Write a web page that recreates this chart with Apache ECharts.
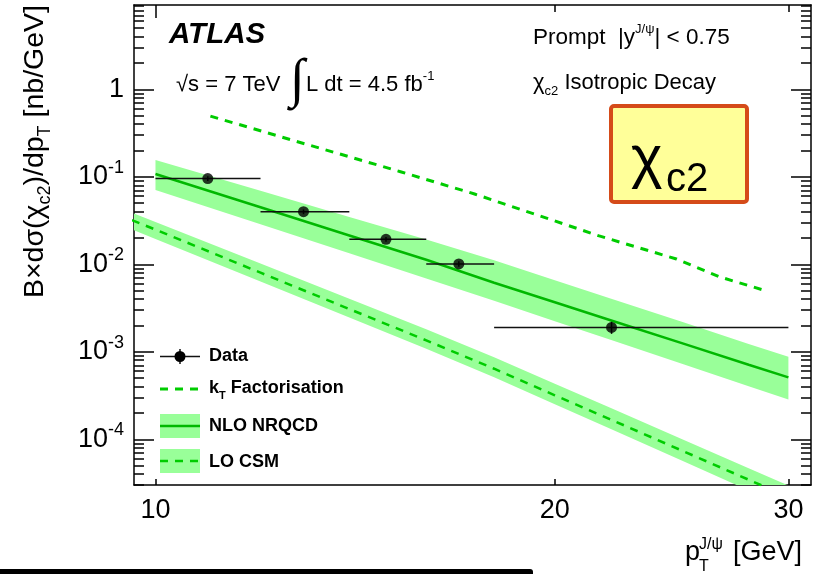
<!DOCTYPE html>
<html>
<head>
<meta charset="utf-8">
<script src="https://cdn.jsdelivr.net/npm/echarts@6/dist/echarts.min.js"></script>
<style>
  html, body { margin: 0; padding: 0; background: #fff; }
  #chart { width: 822px; height: 574px; }
</style>
</head>
<body>
<div id="chart"></div>
<script>
// Measured chi_c2 cross-section (prompt, |y| < 0.75)
const ptBinLow  = [10, 12, 14, 16, 18];
const ptBinHigh = [12, 14, 16, 18, 30];
const ptData    = [10.95, 12.93, 14.92, 16.93, 22.07];
const xsecData  = [0.0954, 0.0399, 0.0193, 0.0101, 0.0019];
const xsecErrLo = [0.006, 0.0025, 0.0012, 0.0007, 0.0003];
const xsecErrHi = [0.006, 0.0025, 0.0012, 0.0007, 0.0003];

// NLO NRQCD prediction with uncertainty band
const ptNlo      = [10, 12, 14, 16, 18, 20, 22, 25, 28, 30];
const nloCentral = [0.1076, 0.0448, 0.02134, 0.01126, 0.00615, 0.00368, 0.00231, 0.00124, 0.00071, 0.00051];
const nloUpper   = [0.1556, 0.0692, 0.0348, 0.0192, 0.01114, 0.00658, 0.0041, 0.00217, 0.00123, 0.000875];
const nloLower   = [0.0707, 0.0286, 0.01333, 0.00689, 0.00382, 0.00223, 0.00138, 0.00072, 0.000404, 0.000285];

// LO colour-singlet prediction with uncertainty band
const ptCsm      = [9.6, 10, 12, 14, 16, 18, 20, 22, 25, 28, 30];
const csmCentral = [0.032, 0.0249, 0.00802, 0.00308, 0.00135, 0.00064, 0.000318, 0.00017, 7.3e-5, 3.45e-5, 2.18e-5];
const csmUpper   = [0.0389, 0.0304, 0.0102, 0.00403, 0.00181, 0.000867, 0.000432, 0.00023, 9.9e-5, 4.67e-5, 2.96e-5];
const csmLower   = [0.0251, 0.0195, 0.00634, 0.00246, 0.00108, 0.000511, 0.000252, 0.000133, 5.6e-5, 2.6e-5, 1.56e-5];

// kT factorisation prediction
const ptKt     = [11, 13, 15.3, 17.4, 19.5, 21.6, 24.7, 26.6, 28.7];
const ktValues = [0.494, 0.235, 0.1144, 0.0636, 0.0356, 0.0211, 0.0115, 0.0072, 0.0051];

// Axis ranges and ticks
const xRange = [9.634, 31.2];
const yRange = [3.0e-5, 9.2];
const xTickValues = [10, 20, 30];
const yDecadeTicks = [1e-4, 1e-3, 1e-2, 1e-1, 1];
const yMinorTicks = [];
for (let e = -5; e <= 0; e++) {
  for (let k = 2; k <= 9; k++) {
    const v = k * Math.pow(10, e);
    if (v >= yRange[0] && v <= yRange[1]) yMinorTicks.push(v);
  }
}

const FONT = '"Liberation Sans", Arial, Helvetica, sans-serif';
const SERIF = '"Liberation Serif", "DejaVu Serif", serif';
const GREEN_LINE = '#00b800';
const GREEN_DASH = '#00cc00';
const GREEN_BAND = '#99ff99';

const chart = echarts.init(document.getElementById('chart'), null, { renderer: 'canvas' });

function pairs(xs, ys) { return xs.map((x, i) => [x, ys[i]]); }

function bandSeries(name, xs, lo, hi) {
  return {
    name: name, type: 'custom', clip: true, silent: true, z: 1,
    data: [[xs[0], hi[0]]],
    renderItem: function (params, api) {
      const pts = [];
      for (let i = 0; i < xs.length; i++) pts.push(api.coord([xs[i], hi[i]]));
      for (let i = xs.length - 1; i >= 0; i--) pts.push(api.coord([xs[i], lo[i]]));
      return { type: 'polygon', shape: { points: pts }, style: { fill: GREEN_BAND } };
    }
  };
}

const tickLine = { color: '#000', width: 1.5 };

function logAxisBase(range) {
  return {
    type: 'log', logBase: 10, min: range[0], max: range[1],
    splitLine: { show: false }, minorTick: { show: false }, minorSplitLine: { show: false },
    axisLine: { show: false, onZero: false },
    axisLabel: { show: false },
    axisTick: { show: false }
  };
}

const xAxes = [
  Object.assign(logAxisBase(xRange), {
    position: 'bottom',
    axisLine: { show: true, onZero: false, lineStyle: tickLine },
    axisTick: { show: true, inside: true, length: 6, customValues: xTickValues, lineStyle: tickLine },
    axisLabel: {
      show: true, customValues: xTickValues, fontSize: 27, fontFamily: FONT, color: '#000', margin: 12,
      formatter: v => String(Math.round(v))
    }
  }),
  Object.assign(logAxisBase(xRange), {
    position: 'top',
    axisLine: { show: true, onZero: false, lineStyle: tickLine },
    axisTick: { show: true, inside: true, length: 7, customValues: [20, 30], lineStyle: tickLine }
  }),
  Object.assign(logAxisBase(xRange), {
    position: 'top',
    axisTick: { show: true, inside: true, length: 13, customValues: [10], lineStyle: tickLine }
  })
];

function decadeLabel(v) {
  const e = Math.round(Math.log10(v));
  if (e === 0) return '{b|1}';
  return '{b|10}{s|' + e + '}';
}

const yAxes = [
  Object.assign(logAxisBase(yRange), {
    position: 'left',
    axisLine: { show: true, onZero: false, lineStyle: tickLine },
    axisTick: { show: true, inside: true, length: 20, customValues: yDecadeTicks, lineStyle: tickLine },
    axisLabel: {
      show: true, customValues: yDecadeTicks, margin: 10, formatter: decadeLabel,
      fontFamily: FONT, fontSize: 27, color: '#000',
      rich: {
        b: { fontFamily: FONT, fontSize: 27, color: '#000', lineHeight: 36, verticalAlign: 'middle' },
        s: { fontFamily: FONT, fontSize: 18, color: '#000', lineHeight: 18, verticalAlign: 'top' }
      }
    }
  }),
  Object.assign(logAxisBase(yRange), {
    position: 'left',
    axisTick: { show: true, inside: true, length: 10, customValues: yMinorTicks, lineStyle: tickLine }
  }),
  Object.assign(logAxisBase(yRange), {
    position: 'right',
    axisLine: { show: true, onZero: false, lineStyle: tickLine },
    axisTick: { show: true, inside: true, length: 20, customValues: yDecadeTicks, lineStyle: tickLine }
  }),
  Object.assign(logAxisBase(yRange), {
    position: 'right',
    axisTick: { show: true, inside: true, length: 10, customValues: yMinorTicks, lineStyle: tickLine }
  })
];

const dataRows = ptData.map((x, i) => [x, xsecData[i], ptBinLow[i], ptBinHigh[i],
  xsecData[i] - xsecErrLo[i], xsecData[i] + xsecErrHi[i]]);

const series = [
  bandSeries('LO CSM band', ptCsm, csmLower, csmUpper),
  bandSeries('NLO NRQCD band', ptNlo, nloLower, nloUpper),
  {
    name: 'LO CSM', type: 'line', data: pairs(ptCsm, csmCentral), showSymbol: false, symbol: 'none',
    clip: true, z: 3, lineStyle: { color: GREEN_DASH, width: 2.5, type: [8, 7] }
  },
  {
    name: 'NLO NRQCD', type: 'line', data: pairs(ptNlo, nloCentral), showSymbol: false, symbol: 'none',
    clip: true, z: 3, lineStyle: { color: GREEN_LINE, width: 2.5 }
  },
  {
    name: 'kT Factorisation', type: 'line', data: pairs(ptKt, ktValues), showSymbol: false, symbol: 'none',
    clip: true, z: 3, lineStyle: { color: GREEN_DASH, width: 3, type: [8, 7] }
  },
  {
    name: 'Data errors', type: 'custom', z: 4, clip: true, silent: true,
    data: dataRows,
    renderItem: function (params, api) {
      const x = api.value(0), y = api.value(1);
      const pL = api.coord([api.value(2), y]);
      const pR = api.coord([api.value(3), y]);
      const pB = api.coord([x, api.value(4)]);
      const pT = api.coord([x, api.value(5)]);
      const st = { stroke: '#111', lineWidth: 1.5 };
      return {
        type: 'group',
        children: [
          { type: 'line', shape: { x1: pL[0], y1: pL[1], x2: pR[0], y2: pR[1] }, style: st },
          { type: 'line', shape: { x1: pB[0], y1: pB[1], x2: pT[0], y2: pT[1] }, style: st }
        ]
      };
    }
  },
  {
    name: 'Data', type: 'scatter', z: 5, data: pairs(ptData, xsecData),
    symbol: 'circle', symbolSize: 11, itemStyle: { color: '#000' }, silent: true
  }
];

// Text and legend drawn on top of the plot
const txt = (x, y, text, extra) => ({
  type: 'text', x: x, y: y, z: 100,
  style: Object.assign({ text: text, fill: '#000', font: '22px ' + FONT, align: 'left', verticalAlign: 'middle' }, extra || {})
});

const legendX = 160, legendW = 40;
const graphics = [
  // headline labels
  txt(169, 35, 'ATLAS', { font: 'italic bold 29.5px ' + FONT }),
  txt(176, 85, '√s = 7 TeV', {}),
  txt(290, 82, '∫', { font: '54px ' + SERIF }),
  txt(306, 85, '{m|L dt = 4.5 fb}{sup|-1}', {
    rich: {
      m: { font: '22px ' + FONT, fill: '#000', lineHeight: 30, verticalAlign: 'middle' },
      sup: { font: '13px ' + FONT, fill: '#000', lineHeight: 13, verticalAlign: 'top' }
    }
  }),
  txt(533, 38, '{m|Prompt  |y}{sup|J/ψ}{m|| < 0.75}', {
    rich: {
      m: { font: '22.5px ' + FONT, fill: '#000', lineHeight: 30, verticalAlign: 'middle' },
      sup: { font: '13px ' + FONT, fill: '#000', lineHeight: 13, verticalAlign: 'top' }
    }
  }),
  txt(533, 83, '{m|χ}{sub|c2}{m| Isotropic Decay}', {
    rich: {
      m: { font: '22px ' + FONT, fill: '#000', lineHeight: 30, verticalAlign: 'middle' },
      sub: { font: '13px ' + FONT, fill: '#000', lineHeight: 13, verticalAlign: 'bottom' }
    }
  }),
  // boxed particle label
  {
    type: 'rect', z: 100,
    shape: { x: 611, y: 106, width: 136, height: 96, r: 3 },
    style: { fill: '#ffff99', stroke: '#d54b19', lineWidth: 4 }
  },
  txt(631, 160, 'χ', { font: '60px ' + FONT }),
  txt(666, 180, 'c2', { font: '40px ' + FONT }),
  // axis titles
  {
    type: 'text', z: 100, x: 35, y: 5, rotation: Math.PI / 2,
    style: {
      text: '{m|B×dσ(χ}{s|c2}{m|)/dp}{s|T}{m| [nb/GeV]}',
      align: 'right', verticalAlign: 'middle', fill: '#000',
      rich: {
        m: { font: '28.5px ' + FONT, fill: '#000', lineHeight: 38, verticalAlign: 'middle' },
        s: { font: '18px ' + FONT, fill: '#000', lineHeight: 18, verticalAlign: 'bottom' }
      }
    }
  },
  txt(685, 553, 'p', { font: '27px ' + FONT }),
  txt(699, 545, 'J/ψ', { font: '16px ' + FONT }),
  txt(699, 567, 'T', { font: '16px ' + FONT }),
  txt(733, 553, '[GeV]', { font: '27px ' + FONT }),
  // legend: Data
  { type: 'line', z: 100, shape: { x1: legendX, y1: 356.5, x2: legendX + legendW, y2: 356.5 }, style: { stroke: '#111', lineWidth: 1.5 } },
  { type: 'line', z: 100, shape: { x1: 180, y1: 349, x2: 180, y2: 364 }, style: { stroke: '#111', lineWidth: 1.5 } },
  { type: 'circle', z: 101, shape: { cx: 180, cy: 356.5, r: 5.5 }, style: { fill: '#000' } },
  txt(209, 356.5, 'Data', { font: 'bold 18px ' + FONT }),
  // legend: kT factorisation
  { type: 'line', z: 100, shape: { x1: legendX, y1: 389, x2: legendX + legendW, y2: 389 }, style: { stroke: GREEN_DASH, lineWidth: 3, lineDash: [8, 7] } },
  txt(209, 388, '{m|k}{s|T}{m| Factorisation}', {
    rich: {
      m: { font: 'bold 18px ' + FONT, fill: '#000', lineHeight: 26, verticalAlign: 'middle' },
      s: { font: 'bold 11px ' + FONT, fill: '#000', lineHeight: 11, verticalAlign: 'bottom' }
    }
  }),
  // legend: NLO NRQCD
  { type: 'rect', z: 100, shape: { x: legendX, y: 414, width: legendW, height: 24 }, style: { fill: GREEN_BAND } },
  { type: 'line', z: 101, shape: { x1: legendX, y1: 426, x2: legendX + legendW, y2: 426 }, style: { stroke: GREEN_LINE, lineWidth: 2.5 } },
  txt(209, 426.5, 'NLO NRQCD', { font: 'bold 18px ' + FONT }),
  // legend: LO CSM
  { type: 'rect', z: 100, shape: { x: legendX, y: 449, width: legendW, height: 24 }, style: { fill: GREEN_BAND } },
  { type: 'line', z: 101, shape: { x1: legendX, y1: 461, x2: legendX + legendW, y2: 461 }, style: { stroke: GREEN_DASH, lineWidth: 2.5, lineDash: [8, 7] } },
  txt(209, 462, 'LO CSM', { font: 'bold 18px ' + FONT }),
  // dark strip along the lower edge
  { type: 'rect', z: 100, shape: { x: -5, y: 569, width: 538, height: 12, r: 3 }, style: { fill: '#000' } }
];

chart.setOption({
  backgroundColor: '#fff',
  animation: false,
  grid: { left: 134, top: 5, right: 11, bottom: 89, containLabel: false },
  xAxis: xAxes,
  yAxis: yAxes,
  series: series,
  graphic: graphics
});
</script>
</body>
</html>
